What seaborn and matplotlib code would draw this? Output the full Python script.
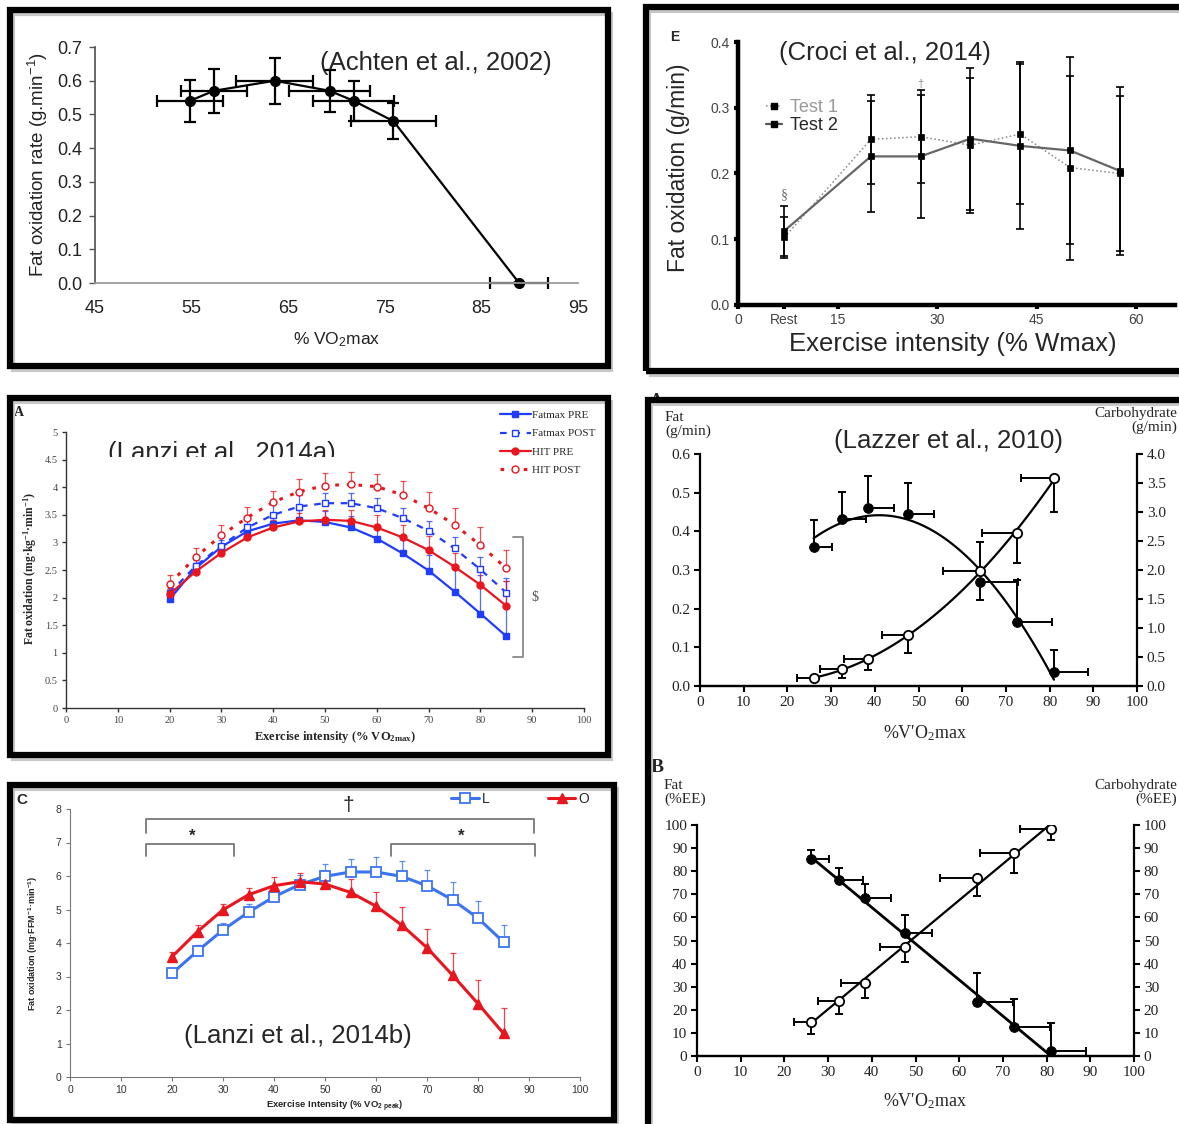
import numpy as np
import matplotlib
matplotlib.use("Agg")
import matplotlib.pyplot as plt
import seaborn as sns
from matplotlib.patches import Rectangle
from matplotlib.lines import Line2D
from matplotlib.transforms import Bbox, TransformedBbox

W, H = 1179, 1124

# ---- Achten et al., 2002 ----
ach_x = [54.8, 57.3, 63.6, 69.3, 71.8, 75.9, 88.9]
ach_y = [0.54, 0.57, 0.60, 0.57, 0.54, 0.48, 0.00]
ach_xerr = [3.4, 3.4, 4.0, 4.2, 4.2, 4.4, 3.0]
ach_yerr = [0.062, 0.065, 0.068, 0.062, 0.060, 0.054, 0.0]

# ---- Croci et al., 2014 ----
cro_x = [7, 20, 27.5, 35, 42.5, 50, 57.5]
cro_ticks = [0, 7, 15, 30, 45, 60]
cro_ticklabels = ["0", "Rest", "15", "30", "45", "60"]
cro_t1 = [0.103, 0.252, 0.256, 0.243, 0.260, 0.209, 0.200]
cro_t1_sd = [0.031, 0.068, 0.071, 0.103, 0.106, 0.140, 0.118]
cro_t2 = [0.113, 0.226, 0.226, 0.253, 0.242, 0.235, 0.204]
cro_t2_sd = [0.038, 0.085, 0.094, 0.108, 0.127, 0.142, 0.128]

# ---- Lanzi et al., 2014a ----
lza_x = [20, 25, 30, 35, 40, 45, 50, 55, 60, 65, 70, 75, 80, 85]
fm_pre = [1.97, 2.53, 2.92, 3.20, 3.34, 3.40, 3.37, 3.27, 3.07, 2.80, 2.49, 2.11, 1.71, 1.30]
fm_pre_sd = [0.08, 0.10, 0.12, 0.14, 0.16, 0.18, 0.20, 0.20, 0.22, 0.25, 0.28, 0.45, 0.70, 1.00]
fm_post = [2.08, 2.57, 2.94, 3.27, 3.50, 3.65, 3.71, 3.71, 3.62, 3.44, 3.21, 2.89, 2.51, 2.09]
fm_post_sd = [0.10, 0.12, 0.15, 0.17, 0.20, 0.20, 0.19, 0.18, 0.18, 0.18, 0.18, 0.21, 0.23, 0.26]
hit_pre = [2.06, 2.47, 2.81, 3.09, 3.27, 3.38, 3.41, 3.39, 3.27, 3.09, 2.86, 2.56, 2.23, 1.85]
hit_pre_sd = [0.10, 0.10, 0.12, 0.12, 0.13, 0.15, 0.17, 0.20, 0.23, 0.22, 0.25, 0.25, 0.30, 0.45]
hit_post = [2.25, 2.73, 3.13, 3.45, 3.73, 3.92, 4.03, 4.05, 4.01, 3.86, 3.62, 3.32, 2.95, 2.53]
hit_post_sd = [0.16, 0.16, 0.18, 0.20, 0.21, 0.22, 0.22, 0.22, 0.23, 0.26, 0.29, 0.30, 0.33, 0.34]

# ---- Lanzi et al., 2014b ----
lzb_x = [20, 25, 30, 35, 40, 45, 50, 55, 60, 65, 70, 75, 80, 85]
lzb_L = [3.09, 3.76, 4.39, 4.92, 5.38, 5.74, 5.99, 6.12, 6.12, 5.99, 5.71, 5.29, 4.74, 4.03]
lzb_L_sd = [0.10, 0.18, 0.20, 0.24, 0.22, 0.29, 0.36, 0.40, 0.44, 0.46, 0.47, 0.52, 0.50, 0.52]
lzb_O = [3.59, 4.34, 4.99, 5.44, 5.71, 5.83, 5.76, 5.51, 5.10, 4.54, 3.86, 3.04, 2.19, 1.30]
lzb_O_sd = [0.15, 0.20, 0.18, 0.21, 0.27, 0.27, 0.20, 0.40, 0.42, 0.52, 0.55, 0.65, 0.72, 0.77]

# ---- Lazzer et al., 2010 ----
laz_x = [26, 32.5, 38.5, 47.5, 64, 72.5, 81]
# A: g/min
lazA_fat = [0.359, 0.433, 0.461, 0.446, 0.269, 0.165, 0.037]
lazA_fat_up = [0.070, 0.070, 0.083, 0.079, 0.0, 0.108, 0.057]
lazA_fat_dn = [0.0, 0.0, 0.0, 0.0, 0.047, 0.0, 0.0]
lazA_fat_xr = [4.3, 5.5, 5.8, 6.0, 8.7, 8.1, 7.8]
lazA_cho = [0.133, 0.289, 0.468, 0.872, 1.98, 2.64, 3.58]
lazA_cho_up = [0.0, 0.0, 0.0, 0.0, 0.50, 0.0, 0.0]
lazA_cho_dn = [0.0, 0.156, 0.20, 0.31, 0.0, 0.52, 0.58]
lazA_cho_xl = [3.7, 5.0, 5.6, 5.8, 8.3, 7.9, 7.5]
# B: %EE
lazB_fat = [85.3, 76.3, 68.6, 53.2, 23.3, 12.7, 2.2]
lazB_fat_up = [4.0, 5.1, 6.0, 7.9, 12.5, 12.0, 12.0]
lazB_fat_xr = [4.1, 5.6, 5.9, 6.3, 8.2, 8.3, 8.1]
lazB_cho = [14.9, 24.0, 31.8, 47.0, 77.0, 87.9, 98.3]
lazB_cho_dn = [5.5, 5.9, 6.5, 6.5, 7.9, 8.7, 4.9]
lazB_cho_xl = [3.8, 4.9, 5.5, 5.7, 8.3, 7.8, 7.1]

sns.set_theme(style="ticks")
plt.rcParams["font.family"] = ["Liberation Sans", "DejaVu Sans"]
plt.rcParams["mathtext.default"] = "regular"
SERIF = ["Liberation Serif", "DejaVu Serif"]

fig = plt.figure(figsize=(W / 100, H / 100), dpi=100, facecolor="white")


def px_axes(l, t, r, b):
    return fig.add_axes([l / W, 1 - b / H, (r - l) / W, (b - t) / H])


def ftext(x, y, s, **kw):
    return fig.text(x / W, 1 - y / H, s, **kw)


def frame(l, t, r, b):
    fig.add_artist(Rectangle(((l + 3) / W, 1 - (b + 4) / H), (r - l) / W, (b - t) / H,
                             transform=fig.transFigure, fill=False, lw=3, ec="#c8c8c8", zorder=9))
    fig.add_artist(Rectangle((l / W, 1 - b / H), (r - l) / W, (b - t) / H,
                             transform=fig.transFigure, fill=False, lw=4.5, ec="black", zorder=10))


zeros7 = [0] * 7
zeros14 = [0] * 14

# ================= Panel 1: Achten =================
ax1 = px_axes(95, 47, 578, 283)
ax1.errorbar(ach_x, ach_y, xerr=ach_xerr, yerr=ach_yerr, fmt="none", ecolor="black",
             elinewidth=1.6, capsize=4, capthick=1.6, clip_on=False)
sns.lineplot(x=ach_x, y=ach_y, ax=ax1, color="black", lw=1.6, marker="o", ms=7,
             mec="black", mew=1, clip_on=False)
ax1.set_xlim(45, 95)
ax1.set_ylim(0, 0.7)
ax1.set_xticks([45, 55, 65, 75, 85, 95])
ax1.set_yticks([0, 0.1, 0.2, 0.3, 0.4, 0.5, 0.6, 0.7])
ax1.set_yticklabels(["0.0", "0.1", "0.2", "0.3", "0.4", "0.5", "0.6", "0.7"])
sns.despine(ax=ax1)
ax1.spines["left"].set_color("#555555")
ax1.spines["bottom"].set_color("#999999")
ax1.tick_params(axis="y", length=4, width=1, color="#555555", labelsize=13, labelcolor="#222222", pad=5)
ax1.tick_params(axis="x", length=0, labelsize=13, labelcolor="#222222", pad=12)
ftext(38, 165, "Fat oxidation rate (g.min$^{-1}$)", rotation=90, ha="center", va="center",
      fontsize=13.5, color="#222222")
ftext(337, 340, "% VO$_2$max", ha="center", va="center", fontsize=12.5, color="#222222")
ftext(436, 63, "(Achten et al., 2002)", ha="center", va="center", fontsize=18.5)

# ================= Panel 2: Croci =================
ax2 = px_axes(738, 42, 1175, 305)
ax2.errorbar(cro_x, cro_t1, yerr=cro_t1_sd, fmt="none", ecolor="black", elinewidth=1.2,
             capsize=3, capthick=1.2)
ax2.errorbar(cro_x, cro_t2, yerr=cro_t2_sd, fmt="none", ecolor="black", elinewidth=1.2,
             capsize=3, capthick=1.2)
sns.lineplot(x=cro_x, y=cro_t1, ax=ax2, color="#888888", lw=1.1, linestyle=":", marker="s",
             ms=4, mfc="black", mec="black", mew=0.5)
sns.lineplot(x=cro_x, y=cro_t2, ax=ax2, color="#666666", lw=1.6, marker="s",
             ms=5, mfc="black", mec="black", mew=0.5)
ax2.set_xlim(0, 65.8)
ax2.set_ylim(0, 0.4)
ax2.set_xticks(cro_ticks)
ax2.set_xticklabels(cro_ticklabels)
ax2.set_yticks([0, 0.1, 0.2, 0.3, 0.4])
ax2.set_yticklabels(["0.0", "0.1", "0.2", "0.3", "0.4"])
sns.despine(ax=ax2)
for s in ["left", "bottom"]:
    ax2.spines[s].set_linewidth(3.2)
    ax2.spines[s].set_color("black")
ax2.tick_params(axis="both", length=3, width=3, color="black", labelsize=10,
                labelcolor="#444444", pad=3)
h1 = Line2D([], [], color="#888888", ls=":", lw=1.1, marker="s", ms=4, mfc="black", mec="black")
h2 = Line2D([], [], color="#555555", lw=1.6, marker="s", ms=4, mfc="black", mec="black")
leg2 = ax2.legend([h1, h2], ["Test 1", "Test 2"], loc="upper left",
                  bbox_to_anchor=(757 / W, 1 - 90 / H), bbox_transform=fig.transFigure,
                  frameon=False, fontsize=13, handlelength=0.9, handletextpad=0.4,
                  labelspacing=0.05, borderpad=0)
leg2.get_texts()[0].set_color("#999999")
ax2.text(7, 0.168, "§", ha="center", va="center", fontsize=10, color="#666666", family=SERIF)
ax2.text(27.5, 0.336, "†", ha="center", va="center", fontsize=8, color="#888888")
ftext(675, 37, "E", ha="center", va="center", fontsize=10, fontweight="bold")
ftext(678, 168, "Fat oxidation (g/min)", rotation=90, ha="center", va="center", fontsize=16.5)
ftext(953, 344, "Exercise intensity (% Wmax)", ha="center", va="center", fontsize=18.5)
ftext(885, 53, "(Croci et al., 2014)", ha="center", va="center", fontsize=18.5)

# ================= Panel 3: Lanzi 2014a =================
BLUE = "#1f3cff"
RED = "#e8161e"
ax3 = px_axes(66, 432, 584, 708)
for yv, sd, col in [(fm_pre, fm_pre_sd, BLUE), (fm_post, fm_post_sd, BLUE),
                    (hit_pre, hit_pre_sd, RED), (hit_post, hit_post_sd, RED)]:
    ax3.errorbar(lza_x, yv, yerr=[zeros14, sd], fmt="none", ecolor=col, elinewidth=0.9,
                 capsize=2.5, capthick=0.9, alpha=0.75)
sns.lineplot(x=lza_x, y=fm_pre, ax=ax3, color=BLUE, lw=1.6, marker="s", ms=5, mec=BLUE, mew=1)
sns.lineplot(x=lza_x, y=fm_post, ax=ax3, color=BLUE, lw=1.6, linestyle=(0, (3, 3)), marker="s",
             ms=5, mfc="white", mec=BLUE, mew=1)
sns.lineplot(x=lza_x, y=hit_pre, ax=ax3, color=RED, lw=1.6, marker="o", ms=5, mec=RED, mew=1)
sns.lineplot(x=lza_x, y=hit_post, ax=ax3, color=RED, lw=2.2, linestyle=(0, (1.2, 2.6)),
             marker="o", ms=5, mfc="white", mec=RED, mew=1)
ax3.set_xlim(0, 100)
ax3.set_ylim(0, 5)
ax3.set_xticks([0, 10, 20, 30, 40, 50, 60, 70, 80, 90, 100])
ax3.set_yticks([0, 0.5, 1, 1.5, 2, 2.5, 3, 3.5, 4, 4.5, 5])
ax3.set_yticklabels(["0", "0.5", "1", "1.5", "2", "2.5", "3", "3.5", "4", "4.5", "5"])
sns.despine(ax=ax3)
for s in ["left", "bottom"]:
    ax3.spines[s].set_linewidth(1.0)
    ax3.spines[s].set_color("#333333")
ax3.tick_params(axis="both", length=3, width=1, color="#333333", labelsize=7.5,
                labelcolor="#444444", pad=3)
for lab in ax3.get_xticklabels() + ax3.get_yticklabels():
    lab.set_family(SERIF)
hl = [Line2D([], [], color=BLUE, lw=1.6, marker="s", ms=5),
      Line2D([], [], color=BLUE, lw=1.6, ls=(0, (3, 3)), marker="s", ms=5, mfc="white"),
      Line2D([], [], color=RED, lw=1.6, marker="o", ms=5),
      Line2D([], [], color=RED, lw=2.2, ls=(0, (1.2, 2.6)), marker="o", ms=5, mfc="white")]
ax3.legend(hl, ["Fatmax PRE", "Fatmax POST", "HIT PRE", "HIT POST"], loc="upper left",
           bbox_to_anchor=(494 / W, 1 - 405 / H), bbox_transform=fig.transFigure,
           frameon=False, prop={"family": SERIF, "size": 8}, handlelength=2.8,
           handletextpad=0.1, labelspacing=0.75, borderpad=0)
ax3.plot([86.2, 88.3, 88.3, 86.2], [3.09, 3.09, 0.93, 0.93], color="#888888", lw=1.3, clip_on=False)
ax3.text(90.6, 2.0, "$", ha="center", va="center", fontsize=10, color="#555555", family=SERIF)
ftext(19, 412, "A", ha="center", va="center", fontsize=10, fontweight="bold", family=SERIF)
ftext(30, 568, "Fat oxidation (mg·kg$^{-1}$·min$^{-1}$)", rotation=90, ha="center", va="center",
      fontsize=8.5, fontweight="bold", family=SERIF)
ftext(335, 737, "Exercise intensity (% VO$_{2max}$)", ha="center", va="center",
      fontsize=9, fontweight="bold", family=SERIF)
t3 = ftext(222, 460, "(Lanzi et al., 2014a)", ha="center", va="baseline", fontsize=18.5)
t3.set_clip_box(TransformedBbox(Bbox([[0, 1 - 457 / H], [1, 1]]), fig.transFigure))
t3.set_clip_on(True)

# ================= Panel 4: Lanzi 2014b =================
LBLUE = "#3c74f0"
ax4 = px_axes(70, 809, 580, 1077)
ax4.errorbar(lzb_x, lzb_L, yerr=[zeros14, lzb_L_sd], fmt="none", ecolor=LBLUE, elinewidth=0.9,
             capsize=2, capthick=0.9, alpha=0.8)
ax4.errorbar(lzb_x, lzb_O, yerr=[zeros14, lzb_O_sd], fmt="none", ecolor=RED, elinewidth=0.9,
             capsize=2, capthick=0.9, alpha=0.8)
sns.lineplot(x=lzb_x, y=lzb_L, ax=ax4, color=LBLUE, lw=2.2, marker="s", ms=7, mfc="white",
             mec=LBLUE, mew=1.3)
sns.lineplot(x=lzb_x, y=lzb_O, ax=ax4, color=RED, lw=2.2, marker="^", ms=7.5, mec=RED, mew=1)
ax4.set_xlim(0, 100)
ax4.set_ylim(0, 8)
ax4.set_xticks([0, 10, 20, 30, 40, 50, 60, 70, 80, 90, 100])
ax4.set_yticks([0, 1, 2, 3, 4, 5, 6, 7, 8])
sns.despine(ax=ax4)
for s in ["left", "bottom"]:
    ax4.spines[s].set_linewidth(0.8)
    ax4.spines[s].set_color("#777777")
ax4.tick_params(axis="both", length=3, width=0.8, color="#777777", labelsize=7.5,
                labelcolor="#333333", pad=3)
ax4.plot([14.9, 14.9, 90.9, 90.9], [7.28, 7.70, 7.70, 7.28], color="#777777", lw=1.3)
ax4.plot([14.9, 14.9, 32.2, 32.2], [6.60, 6.96, 6.96, 6.60], color="#777777", lw=1.3)
ax4.plot([62.9, 62.9, 91.1, 91.1], [6.60, 6.96, 6.96, 6.60], color="#777777", lw=1.3)
ax4.text(24, 7.18, "*", ha="center", va="center", fontsize=12, fontweight="bold")
ax4.text(76.7, 7.18, "*", ha="center", va="center", fontsize=12, fontweight="bold")
ax4.text(54.5, 8.1, "†", ha="center", va="center", fontsize=15, clip_on=False)
hb = [Line2D([], [], color=LBLUE, lw=2.2, marker="s", ms=7, mfc="white", mec=LBLUE, mew=1.3),
      Line2D([], [], color=RED, lw=2.2, marker="^", ms=7.5, mec=RED)]
ax4.legend(hb, ["L", "O"], loc="center", ncol=2, bbox_to_anchor=(520 / W, 1 - 799 / H),
           bbox_transform=fig.transFigure, frameon=False, fontsize=10, handlelength=2.0,
           handletextpad=0.2, columnspacing=4.2, borderpad=0)
ftext(22, 800, "C", ha="center", va="center", fontsize=11, fontweight="bold")
ftext(33, 943, "Fat oxidation (mg·FFM$^{-1}$·min$^{-1}$)", rotation=90, ha="center",
      va="center", fontsize=6.5, fontweight="bold")
ftext(335, 1106, "Exercise Intensity (% VO$_{2\\ peak}$)", ha="center", va="center",
      fontsize=6.8, fontweight="bold")
ftext(298, 1036, "(Lanzi et al., 2014b)", ha="center", va="center", fontsize=18.5)


# ================= Lazzer helpers =================
def lazzer_style(ax, axr, yticks, ylabels, rticks, rlabels):
    ax.set_xlim(0, 100)
    ax.set_xticks([0, 10, 20, 30, 40, 50, 60, 70, 80, 90, 100])
    ax.set_yticks(yticks)
    ax.set_yticklabels(ylabels)
    axr.set_yticks(rticks)
    axr.set_yticklabels(rlabels)
    for a in (ax, axr):
        a.spines["top"].set_visible(False)
        for s in ["left", "right", "bottom"]:
            a.spines[s].set_linewidth(1.6)
            a.spines[s].set_color("black")
        a.tick_params(axis="both", length=4, width=1.5, color="black", labelsize=11,
                      labelcolor="#222222", pad=3)
        for lab in a.get_xticklabels() + a.get_yticklabels():
            lab.set_family(SERIF)
    axr.spines["left"].set_visible(False)
    ax.spines["right"].set_visible(False)


# ================= Panel 5: Lazzer A =================
ax5 = px_axes(700, 454, 1137, 686)
ax5r = ax5.twinx()
ax5.errorbar(laz_x, lazA_fat, yerr=[lazA_fat_dn, lazA_fat_up], xerr=[zeros7, lazA_fat_xr],
             fmt="none", ecolor="black", elinewidth=1.4, capsize=3, capthick=1.4)
sns.regplot(x=laz_x, y=lazA_fat, ax=ax5, order=2, ci=None, scatter=False, truncate=True,
            line_kws={"color": "black", "lw": 1.6})
sns.scatterplot(x=laz_x, y=lazA_fat, ax=ax5, color="black", edgecolor="black", s=50, zorder=4)
ax5r.errorbar(laz_x, lazA_cho, yerr=[lazA_cho_dn, lazA_cho_up], xerr=[lazA_cho_xl, zeros7],
              fmt="none", ecolor="black", elinewidth=1.4, capsize=3, capthick=1.4)
sns.regplot(x=laz_x, y=lazA_cho, ax=ax5r, order=2, ci=None, scatter=False, truncate=True,
            line_kws={"color": "black", "lw": 1.6})
sns.scatterplot(x=laz_x, y=lazA_cho, ax=ax5r, color="white", edgecolor="black", linewidth=1.3,
                s=45, zorder=4)
ax5.set_ylim(0, 0.6)
ax5r.set_ylim(0, 4.0)
ax5.set_xlim(0, 100)
lazzer_style(ax5, ax5r, [0, 0.1, 0.2, 0.3, 0.4, 0.5, 0.6],
             ["0.0", "0.1", "0.2", "0.3", "0.4", "0.5", "0.6"],
             [0, 0.5, 1.0, 1.5, 2.0, 2.5, 3.0, 3.5, 4.0],
             ["0.0", "0.5", "1.0", "1.5", "2.0", "2.5", "3.0", "3.5", "4.0"])
ax5.set_xlabel("")
ax5.set_ylabel("")
ax5r.set_ylabel("")
ftext(656, 401, "A", ha="center", va="center", fontsize=13, fontweight="bold", family=SERIF)
ftext(665, 411, "Fat\n(g/min)", ha="left", va="top", fontsize=11, family=SERIF, linespacing=1.05)
ftext(1177, 407, "Carbohydrate\n(g/min)", ha="right", va="top", fontsize=11, family=SERIF,
      multialignment="right", linespacing=1.05)
ftext(948, 441, "(Lazzer et al., 2010)", ha="center", va="center", fontsize=18.5)
ftext(925, 733, "%V'O$_2$max", ha="center", va="center", fontsize=13, family=SERIF)

# ================= Panel 6: Lazzer B =================
ax6 = px_axes(697, 825, 1134, 1056)
ax6r = ax6.twinx()
ax6.errorbar(laz_x, lazB_fat, yerr=[zeros7, lazB_fat_up], xerr=[zeros7, lazB_fat_xr],
             fmt="none", ecolor="black", elinewidth=1.4, capsize=3, capthick=1.4)
sns.regplot(x=laz_x, y=lazB_fat, ax=ax6, order=1, ci=None, scatter=False, truncate=True,
            line_kws={"color": "black", "lw": 2.0})
sns.scatterplot(x=laz_x, y=lazB_fat, ax=ax6, color="black", edgecolor="black", s=50, zorder=4)
ax6r.errorbar(laz_x, lazB_cho, yerr=[lazB_cho_dn, zeros7], xerr=[lazB_cho_xl, zeros7],
              fmt="none", ecolor="black", elinewidth=1.4, capsize=3, capthick=1.4)
sns.regplot(x=laz_x, y=lazB_cho, ax=ax6r, order=1, ci=None, scatter=False, truncate=True,
            line_kws={"color": "black", "lw": 1.6})
sns.scatterplot(x=laz_x, y=lazB_cho, ax=ax6r, color="white", edgecolor="black", linewidth=1.3,
                s=45, zorder=4)
ax6.set_ylim(0, 100)
ax6r.set_ylim(0, 100)
ax6.set_xlim(0, 100)
pct = [0, 10, 20, 30, 40, 50, 60, 70, 80, 90, 100]
lazzer_style(ax6, ax6r, pct, [str(v) for v in pct], pct, [str(v) for v in pct])
ax6.set_xlabel("")
ax6.set_ylabel("")
ax6r.set_ylabel("")
ftext(657, 768, "B", ha="center", va="center", fontsize=14, fontweight="bold", family=SERIF)
ftext(664, 779, "Fat\n(%EE)", ha="left", va="top", fontsize=11, family=SERIF, linespacing=1.05)
ftext(1177, 779, "Carbohydrate\n(%EE)", ha="right", va="top", fontsize=11, family=SERIF,
      multialignment="right", linespacing=1.05)
ftext(925, 1101, "%V'O$_2$max", ha="center", va="center", fontsize=13, family=SERIF)

# ================= Frames =================
frame(10, 10, 608, 366)
frame(646, 7, 1190, 371)
frame(10, 398, 608, 755)
frame(10, 785, 614, 1120)
frame(648, 400, 1190, 1140)

fig.savefig("out.png", dpi=100, facecolor="white")
